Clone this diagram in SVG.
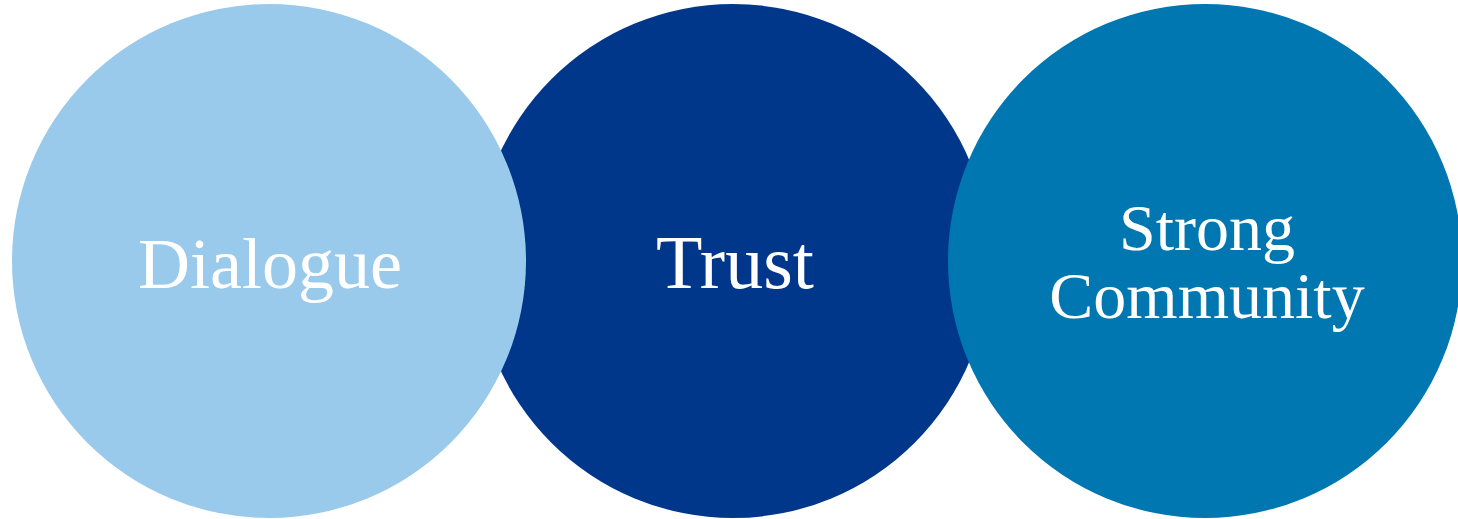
<svg xmlns="http://www.w3.org/2000/svg" width="1458" height="519" viewBox="0 0 1458 519">
<style>
.lbl{font-family:"Liberation Serif","DejaVu Serif",serif;fill:#ffffff;text-anchor:middle}
</style>
<rect width="1458" height="519" fill="#ffffff"/>
<g id="trust">
<circle cx="733" cy="261" r="257" fill="#00378A"/>
<text class="lbl" x="735" y="288" font-size="76">Trust</text>
</g>
<g id="dialogue">
<circle cx="269" cy="261" r="257" fill="#9ACAEB"/>
<text class="lbl" x="270" y="288" font-size="72">Dialogue</text>
</g>
<g id="strong-community">
<circle cx="1205" cy="261" r="257" fill="#0077B0"/>
<text class="lbl" x="1207" y="250" font-size="66">Strong</text>
<text class="lbl" x="1207" y="318" font-size="66">Community</text>
</g>
<g id="connectors"></g>
</svg>
